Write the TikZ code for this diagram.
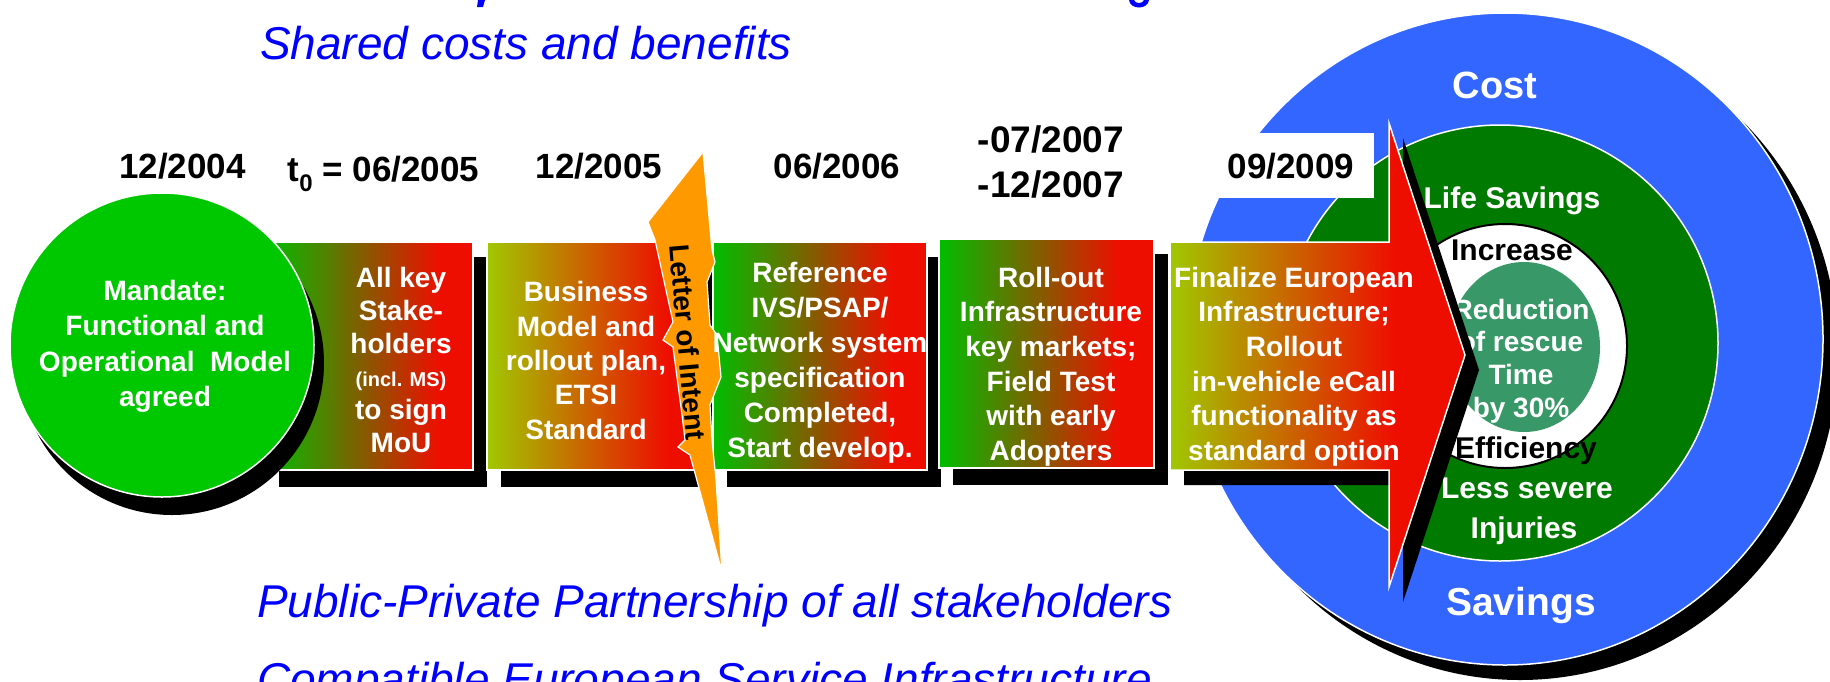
\documentclass[tikz,border=0pt]{standalone}
\usepackage{fontspec}
\setmainfont{Liberation Sans}
\definecolor{mandg}{RGB}{0,200,0}
\definecolor{bgrn}{RGB}{0,190,0}
\definecolor{bred}{RGB}{238,14,0}
\definecolor{byel}{RGB}{160,200,0}
\definecolor{boltc}{RGB}{255,153,0}
\definecolor{ringblue}{RGB}{51,102,255}
\definecolor{ringgreen}{RGB}{0,122,0}
\definecolor{tealc}{RGB}{56,152,104}
\definecolor{txtblue}{RGB}{0,0,255}
\pgfdeclarehorizontalshading{gr}{100bp}{color(0bp)=(bgrn); color(25bp)=(bgrn); color(67bp)=(bred); color(100bp)=(bred)}
\pgfdeclarehorizontalshading{yr}{100bp}{color(0bp)=(byel); color(25bp)=(byel); color(67bp)=(bred); color(100bp)=(bred)}
\pgfdeclarehorizontalshading{ar}{100bp}{color(0bp)=(byel); color(25bp)=(byel); color(63bp)=(bred); color(100bp)=(bred)}
\begin{document}
\begin{tikzpicture}[x=1pt,y=-1pt,
  every node/.style={inner sep=0pt, outer sep=0pt},
  bx/.style={text=white, align=center},
  dt/.style={font=\fontsize{35}{40}\selectfont\bfseries, anchor=base},
  bltxt/.style={text=txtblue, font=\fontsize{46}{50}\selectfont\itshape, anchor=base west},
  ctxt/.style={text=white, font=\fontsize{30}{34}\selectfont\bfseries, anchor=base},
  wl/.style={draw=white, line width=1.5pt}]
\useasboundingbox (0,0) rectangle (1830,681);
\clip (0,0) rectangle (1830,681);
\fill[white] (0,0) rectangle (1830,681);

% tiny descenders of a cut-off line above
\fill[txtblue] (478,0) -- (485,0) -- (483,7) -- (477,7) -- cycle;
\fill[txtblue] (1129,0) .. controls (1130,10) and (1148,10) .. (1149,0) -- (1144,0) .. controls (1143,4) and (1135,4) .. (1134,0) -- cycle;

% ---- right rings ----
\fill[black] (1520,354) ellipse [x radius=318pt, y radius=326pt];
\path[fill=ringblue, wl] (1505,339) ellipse [x radius=318pt, y radius=326pt];
\path[fill=ringgreen, wl] (1500,343) circle [radius=218pt];
\path[fill=white, draw=black, line width=2pt] (1505,346) circle [radius=122pt];
\fill[tealc] (1524,347) ellipse [x radius=76pt, y radius=85pt];

\node[ctxt, font=\fontsize{38}{40}\selectfont\bfseries] (cost) at (1495,98) {Cost};
\node[ctxt] (life) at (1512,208) {Life Savings};
\node[ctxt, text=black] (incr) at (1512,260) {Increase};
\node[bx, font=\fontsize{28}{32.7}\selectfont\bfseries] (red) at (1521,361) {Reduction\\of rescue\\Time\\by 30\%};
\node[ctxt, text=black] (eff) at (1526,458) {Efficiency};
\node[ctxt] (less) at (1527,498) {Less severe};
\node[ctxt] (inj) at (1524,538) {Injuries};
\node[ctxt, font=\fontsize{39}{42}\selectfont\bfseries] (sav) at (1521,615) {Savings};

% white label background for 09/2009
\fill[white] (1208,133) rectangle (1374,198);

% ---- box 1 and mandate circle ----
\fill[black] (279,257) rectangle (487,487);
\path[shading=gr, wl] (265,242) rectangle (473,470);
\fill[black] (172,363) circle [radius=152pt];
\path[fill=mandg, wl] (162,345) circle [radius=152pt];

% ---- box 2 ----
\fill[black] (501,257) rectangle (716,487);
\path[shading=yr, wl] (487,242) rectangle (702,470);

% ---- box 3 ----
\fill[black] (727,257) rectangle (941,487);
\path[shading=gr, wl] (713,242) rectangle (927,470);

% ---- box 4 ----
\fill[black] (953,254) rectangle (1168,485);
\path[shading=gr, wl] (939,239) rectangle (1154,468);

% ---- box 5 with arrow head ----
\fill[black] (1184,257) -- (1403,257) -- (1403,138) -- (1479,370) -- (1403,602) -- (1403,485) -- (1184,485) -- cycle;
\path[shading=ar, wl] (1170,242) -- (1389,242) -- (1389,123) -- (1465,355) -- (1389,587) -- (1389,470) -- (1170,470) -- cycle;

% ---- letter of intent bolt ----
\path[fill=boltc, draw=white, line width=1.2pt] (703,152) -- (712,250) -- (715,262) -- (707,282) -- (710,325) -- (717,335) -- (721,377) -- (710,405) -- (712,440) -- (716,480) -- (722,572) -- (690,455) -- (678,447) -- (685,440) -- (682,415) -- (673,347) -- (663,340) -- (673,322) -- (655,240) -- (648,222) -- cycle;
\node[rotate=-85, font=\fontsize{28}{30}\selectfont\bfseries] (loi) at (688,342) {Letter of Intent};

% ---- box texts ----
\node[bx, font=\fontsize{28}{35.5}\selectfont\bfseries] (mand) at (165,346.5) {Mandate:\\Functional and\\Operational\ \ Model\\agreed};
\node[bx, font=\fontsize{28}{33}\selectfont\bfseries] (b1) at (401,359.5) {All key\\Stake-\\holders\\{\fontsize{20}{20}\selectfont (incl. MS)}\\to sign\\MoU};
\node[bx, font=\fontsize{28}{34.3}\selectfont\bfseries] (b2) at (586,360.5) {Business\\Model and\\rollout plan,\\ETSI\\Standard};
\node[bx, font=\fontsize{28}{35}\selectfont\bfseries] (b3) at (820,362.5) {Reference\\IVS/PSAP/\\Network system\\specification\\Completed,\\Start develop.};
\node[bx, font=\fontsize{28}{34.6}\selectfont\bfseries] (b4) at (1051,366.5) {Roll-out\\Infrastructure\\key markets;\\Field Test\\with early\\Adopters};
\node[bx, font=\fontsize{28}{34.6}\selectfont\bfseries] (b5) at (1294,366.5) {Finalize European\\Infrastructure;\\Rollout\\in-vehicle eCall\\functionality as\\standard option};

% ---- dates ----
\node[dt] (d1) at (182.5,178) {12/2004};
\node[dt] (d2) at (383.5,181) {t\raisebox{-10pt}{\fontsize{24}{24}\selectfont 0} = 06/2005};
\node[dt] (d3) at (599,178) {12/2005};
\node[dt] (d4) at (837,178) {06/2006};
\node[dt, font=\fontsize{37}{40}\selectfont\bfseries] (d5) at (1051,152) {-07/2007};
\node[dt, font=\fontsize{37}{40}\selectfont\bfseries] (d6) at (1051,197) {-12/2007};
\node[dt] (d7) at (1291,178) {09/2009};

% ---- blue headlines ----
\node[bltxt] (t1) at (260,59) {Shared costs and benefits};
\node[bltxt] (t2) at (257,617) {Public-Private Partnership of all stakeholders};
\node[bltxt] (t3) at (257,695) {Compatible European Service Infrastructure};
\end{tikzpicture}
\end{document}
